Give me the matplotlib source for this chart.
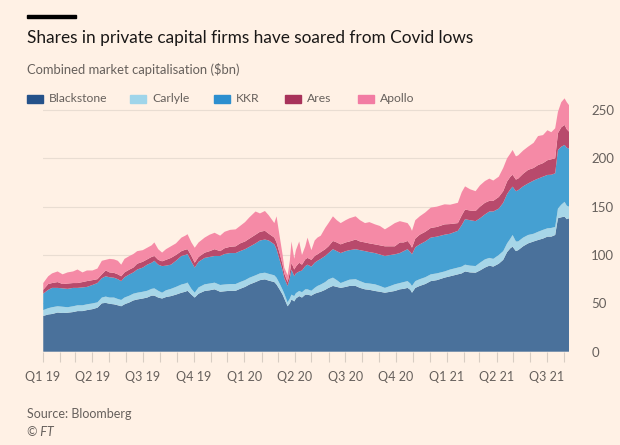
import numpy as np
import pandas as pd
import matplotlib
matplotlib.use("Agg")
from matplotlib import pyplot as plt
from matplotlib.patches import Rectangle

# values ($bn), roughly weekly
dates = ["2019-01-02", "2019-01-11", "2019-01-18", "2019-01-28", "2019-02-06", "2019-02-15",
         "2019-02-25", "2019-03-05", "2019-03-14", "2019-03-22", "2019-04-01", "2019-04-10",
         "2019-04-18", "2019-04-25", "2019-05-02", "2019-05-10", "2019-05-17", "2019-05-23",
         "2019-05-29", "2019-06-07", "2019-06-14", "2019-06-21", "2019-07-01", "2019-07-09",
         "2019-07-17", "2019-07-22", "2019-07-29", "2019-08-05", "2019-08-12", "2019-08-21",
         "2019-08-30", "2019-09-09", "2019-09-16", "2019-09-20", "2019-09-27", "2019-10-03",
         "2019-10-10", "2019-10-21", "2019-10-30", "2019-11-08", "2019-11-18", "2019-11-26",
         "2019-12-06", "2019-12-16", "2019-12-24", "2020-01-02", "2020-01-10", "2020-01-21",
         "2020-01-29", "2020-02-07", "2020-02-14", "2020-02-24", "2020-02-28", "2020-03-05",
         "2020-03-10", "2020-03-13", "2020-03-19", "2020-03-23", "2020-03-26", "2020-03-31",
         "2020-04-03", "2020-04-09", "2020-04-14", "2020-04-20", "2020-04-24", "2020-05-01",
         "2020-05-07", "2020-05-12", "2020-05-18", "2020-05-26", "2020-06-01", "2020-06-09",
         "2020-06-16", "2020-06-23", "2020-07-02", "2020-07-09", "2020-07-20", "2020-07-28",
         "2020-08-06", "2020-08-14", "2020-08-24", "2020-09-02", "2020-09-11", "2020-09-21",
         "2020-09-29", "2020-10-08", "2020-10-15", "2020-10-22", "2020-10-27", "2020-10-30",
         "2020-11-05", "2020-11-13", "2020-11-23", "2020-12-03", "2020-12-14", "2020-12-28",
         "2021-01-07", "2021-01-21", "2021-01-28", "2021-02-03", "2021-02-12", "2021-02-22",
         "2021-03-02", "2021-03-11", "2021-03-19", "2021-03-26", "2021-04-05", "2021-04-13",
         "2021-04-20", "2021-04-26", "2021-04-30", "2021-05-06", "2021-05-10", "2021-05-19",
         "2021-05-28", "2021-06-07", "2021-06-15", "2021-06-24", "2021-07-02", "2021-07-09",
         "2021-07-16", "2021-07-21", "2021-07-27", "2021-08-02", "2021-08-06", "2021-08-10"]

blackstone = [37, 38.5, 39, 40.5, 40, 40.3, 41, 42, 42, 43, 44, 45.5,
              50, 50.5, 49.5, 49, 48, 47, 49, 51, 53, 54, 55, 56,
              58, 58, 56, 55, 56.5, 57.5, 59, 61, 62, 63, 59, 56,
              60, 62.8, 63.5, 64.5, 62, 62.5, 63, 63, 65, 67, 69.5, 72,
              74, 74.8, 73.5, 72, 69.5, 64, 59, 55, 47, 50, 54, 52,
              55, 57.5, 56, 59, 59, 58, 60, 61, 62, 64, 66, 68,
              67, 66, 67, 68, 68, 66, 64.5, 64, 62.8, 62, 61, 62,
              62.8, 64.5, 65, 66, 64, 61, 66, 68, 70, 73, 74, 76.6,
              78, 80, 81, 83, 82, 81.7, 84, 87, 89, 88, 91, 95,
              103, 107, 108.6, 104, 105, 109, 112, 114, 115.5, 117, 119, 119,
              120.7, 138, 139, 139.7, 137, 138]
carlyle = [6, 6.5, 7, 6.5, 6.5, 5.7, 6, 6, 6, 6, 6, 5.5,
           6, 6.5, 6.5, 7, 6.5, 6.5, 7, 7, 7, 7, 7, 7,
           7, 7.5, 7, 6, 7, 7.5, 8, 8.5, 8.5, 8.5, 6, 5,
           6.5, 6.9, 7, 6.9, 7, 7, 7, 7, 7, 7, 7, 7,
           7, 6.9, 7, 7, 7, 6, 5, 5, 4, 5, 5, 5.5,
           5.5, 5.3, 5.5, 5.5, 5.5, 5, 6, 7, 7.5, 8, 8.8, 8.6,
           7, 5, 6, 6.5, 7, 7, 6.5, 6.5, 6.9, 6, 5, 6,
           6.9, 6.5, 7, 7, 6.5, 7, 7, 7, 7, 7, 7, 6.4,
           7, 7, 7, 7, 7, 6.9, 8, 8.5, 8, 8, 9, 9,
           9, 10, 12.1, 10, 9, 9, 8.7, 8, 8.5, 9, 8.6, 9,
           8.3, 10, 13, 15.3, 14, 12]
kkr = [17, 19, 20, 19, 19, 19, 19, 18, 18.5, 18, 19, 20,
       20, 21, 21, 20.5, 20.5, 19.5, 21, 22, 22, 24, 25, 27,
       27, 28.5, 27, 27.5, 25.5, 25, 27, 29.5, 29.5, 29.5, 28, 26,
       26.5, 27.3, 27.5, 27.6, 30, 31.5, 32, 32, 32, 32, 32, 33,
       34, 34.3, 34.5, 32, 29.5, 24, 20, 16, 17, 21, 26, 20.5,
       20.5, 20.2, 22.5, 24, 25.5, 25, 26, 26, 26.5, 27, 27.2, 29.4,
       30, 31, 31, 30.5, 31, 32, 33, 32.5, 32.3, 32.5, 33, 32,
       31, 31, 32, 33, 32.5, 32.7, 35, 36, 37, 38, 38, 38,
       37, 38, 43, 47, 47, 46.4, 46, 46.5, 48, 49, 48, 50,
       51, 51, 50, 52, 53, 53, 53.3, 55, 55, 55, 55.2, 55,
       55.5, 60.6, 60, 58.8, 60, 60]
ares = [4, 6, 5, 6, 4.5, 5.5, 5, 5, 5.5, 6, 5, 4,
        4, 6, 5, 5, 5, 5, 5, 5, 5, 6, 6, 5.5,
        6, 5, 5, 5, 6, 7, 6, 5, 5.5, 5, 6, 5,
        5, 5.4, 6, 7, 5, 6, 6.5, 7, 8, 8, 8.5, 9,
        9, 9, 7, 7, 7, 7, 6, 5, 4, 6, 7, 7,
        7, 9, 6, 7, 7, 7, 7, 6.7, 7, 7, 7, 8.5,
        9, 9, 9, 9, 10, 9, 9, 9, 9, 9.5, 10, 9,
        8.3, 11, 9, 8.5, 8, 6.9, 9, 10, 10, 10, 10, 10.7,
        10, 8, 10, 10, 10, 10.5, 12, 12, 11, 11, 12, 12,
        13, 13, 12.3, 12, 12, 13, 14, 13, 14, 14, 15.2, 16,
        15.5, 17.4, 20, 20.7, 19, 17.6]
apollo = [7, 8, 10, 11, 10, 11.5, 12, 14, 10, 11, 10, 11,
          14, 11, 14, 14, 14, 12, 14, 14, 14, 13, 12, 12,
          12, 14, 11, 9, 11, 12, 12, 14, 14.5, 15.5, 14, 15.5,
          15, 15.6, 17, 17, 16, 17, 17.5, 17.5, 18, 20, 22, 24,
          19, 20.5, 19, 15, 27, 17, 10, 6, 7, 12, 22, 11,
          17, 22, 10, 13.5, 21, 10, 16, 17.3, 17, 22, 24, 25.5,
          23, 22, 23, 24, 24, 22, 20, 22, 20.7, 20, 17.5, 21,
          24, 22, 21, 18.5, 18, 17.4, 19, 19, 20, 21, 21, 20.7,
          20, 21, 24, 24, 22, 20.5, 22, 22.5, 23, 21, 21, 24,
          24, 24, 25.6, 24, 24, 24, 24, 26, 30, 29, 31, 28,
          31, 22, 26, 27.5, 28, 27.4]

names = ["Blackstone", "Carlyle", "KKR", "Ares", "Apollo"]
area_colors = ["#4a719b", "#a7d6e8", "#45a0d2", "#b84a6c", "#f58aa6"]
legend_colors = ["#25528a", "#9fd5ea", "#2d8fcf", "#a8325a", "#f27ca3"]
quarter_labels = ["Q1 19", "Q2 19", "Q3 19", "Q4 19", "Q1 20", "Q2 20",
                  "Q3 20", "Q4 20", "Q1 21", "Q2 21", "Q3 21"]

bg = "#fff1e5"
plt.rcParams["font.family"] = ["Lato", "DejaVu Sans"]

x = pd.to_datetime(dates)

fig = plt.figure(figsize=(6.2, 4.45), dpi=100, facecolor=bg)
W, H = 620, 445
left, right, bottom = 42.7, 569, 351.7
ymax = 265
top = bottom - ymax * 0.967
ax = fig.add_axes([left / W, (H - bottom) / H, (right - left) / W, (bottom - top) / H])
ax.set_facecolor("none")

ax.stackplot(x, blackstone, carlyle, kkr, ares, apollo, colors=area_colors,
             linewidth=0, zorder=2)

ax.set_xlim(pd.Timestamp("2019-01-01"), x[-1])
ax.set_ylim(0, ymax)

# axes styling
for s in ax.spines.values():
    s.set_visible(False)
ax.yaxis.tick_right()
ax.set_yticks(np.arange(0, 251, 50))
ax.tick_params(axis="y", length=0, pad=16, labelsize=9.5, labelcolor="#66605c")
for lab in ax.get_yticklabels():
    lab.set_horizontalalignment("left")
ax.grid(axis="y", color="#e9ddd2", linewidth=0.8, zorder=1)

qticks = pd.date_range("2019-01-01", "2021-07-01", freq="QS")
mticks = pd.date_range("2019-01-01", "2021-08-01", freq="MS")
ax.set_xticks(qticks)
ax.set_xticklabels(quarter_labels)
ax.set_xticks(mticks, minor=True)
ax.tick_params(axis="x", which="both", length=7, color="#d8cdc3", width=0.8,
               labelsize=9, labelcolor="#66605c", pad=7)

# title block
fig.add_artist(Rectangle((27 / W, 1 - 18 / H), 49 / W, 3.5 / H, transform=fig.transFigure,
                         color="black"))
fig.text(27 / W, 1 - 38 / H, "Shares in private capital firms have soared from Covid lows",
         fontsize=12.4, color="#1a1817", va="center")
fig.text(27 / W, 1 - 70 / H, "Combined market capitalisation ($bn)",
         fontsize=9.4, color="#66605c", va="center")

# legend row
leg_x = [27, 130, 214, 285, 358]
for lx, name, c in zip(leg_x, names, legend_colors):
    fig.add_artist(Rectangle((lx / W, 1 - 103 / H), 16 / W, 8 / H,
                             transform=fig.transFigure, color=c))
    fig.text((lx + 22) / W, 1 - 99 / H, name, fontsize=8.7, color="#66605c", va="center")

fig.text(27 / W, 1 - 414 / H, "Source: Bloomberg", fontsize=9, color="#66605c", va="center")
fig.text(27 / W, 1 - 432 / H, "© FT", fontsize=9, color="#66605c", va="center",
         style="italic")

fig.savefig("out.png", dpi=100, facecolor=bg)
